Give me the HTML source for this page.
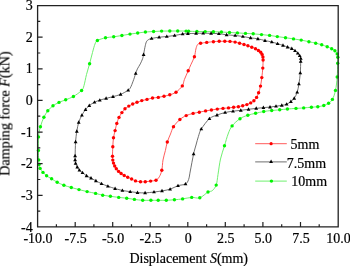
<!DOCTYPE html>
<html><head><meta charset="utf-8"><style>
html,body{margin:0;padding:0;background:#fff;width:350px;height:266px;overflow:hidden}
svg{display:block}
svg text{will-change:transform}
text{font-family:"Liberation Serif",serif;font-size:14px;fill:#000;stroke:#000;stroke-width:0.2px}
</style></head><body>
<svg width="350" height="266" viewBox="0 0 350 266">
<rect width="350" height="266" fill="#fff"/>
<g fill="none" stroke-linejoin="round">
<path d="M38.5,136.9 C38.83,132.95 39.50,129.97 40.4,126.7 C41.30,123.43 42.67,119.95 43.9,117.3 C45.13,114.65 46.28,112.72 47.8,110.8 C49.32,108.88 51.13,107.20 53.0,105.8 C54.87,104.40 56.88,103.40 59.0,102.4 C61.12,101.40 63.30,100.78 65.7,99.8 C68.10,98.82 70.75,98.05 73.4,96.5 C76.05,94.95 79.83,92.33 81.6,90.5 C83.37,88.67 83.18,88.17 84.0,85.5 C84.82,82.83 85.57,78.13 86.5,74.5 C87.43,70.87 88.60,67.37 89.6,63.7 C90.60,60.03 91.60,55.78 92.5,52.5 C93.40,49.22 94.18,46.00 95.0,44.0 C95.82,42.00 95.65,41.53 97.4,40.5 C99.15,39.47 102.78,38.42 105.5,37.8 C108.22,37.18 110.97,37.18 113.7,36.8 C116.43,36.42 119.18,35.95 121.9,35.5 C124.62,35.05 127.37,34.52 130.0,34.1 C132.63,33.68 135.13,33.35 137.7,33.0 C140.27,32.65 142.75,32.25 145.4,32.0 C148.05,31.75 150.90,31.65 153.6,31.5 C156.30,31.35 158.90,31.18 161.6,31.1 C164.30,31.02 167.12,31.02 169.8,31.0 C172.48,30.98 174.98,30.98 177.7,31.0 C180.42,31.02 184.28,31.07 186.1,31.1 C187.92,31.13 186.80,31.13 188.6,31.2 C190.40,31.27 194.13,31.43 196.9,31.5 C199.67,31.57 202.45,31.57 205.2,31.6 C207.95,31.63 210.70,31.63 213.4,31.7 C216.10,31.77 218.72,31.87 221.4,32.0 C224.08,32.13 226.83,32.35 229.5,32.5 C232.17,32.65 234.73,32.75 237.4,32.9 C240.07,33.05 242.87,33.25 245.5,33.4 C248.13,33.55 250.53,33.60 253.2,33.8 C255.87,34.00 258.77,34.33 261.5,34.6 C264.23,34.87 266.97,35.07 269.6,35.4 C272.23,35.73 274.65,36.22 277.3,36.6 C279.95,36.98 282.80,37.32 285.5,37.7 C288.20,38.08 290.88,38.50 293.5,38.9 C296.12,39.30 298.63,39.63 301.2,40.1 C303.77,40.57 306.48,41.18 308.9,41.7 C311.32,42.22 313.57,42.68 315.7,43.2 C317.83,43.72 319.78,44.22 321.7,44.8 C323.62,45.38 325.53,46.05 327.2,46.7 C328.87,47.35 330.42,48.02 331.7,48.7 C332.98,49.38 333.98,49.93 334.9,50.8 C335.82,51.67 336.72,52.82 337.2,53.9 C337.68,54.98 337.72,55.73 337.8,57.3 C337.88,58.87 337.80,60.02 337.7,63.3 C337.60,66.58 337.57,72.48 337.2,77.0 C336.83,81.52 336.30,86.67 335.5,90.4 C334.70,94.13 333.55,97.25 332.4,99.4 C331.25,101.55 330.03,102.28 328.6,103.3 C327.17,104.32 325.60,104.93 323.8,105.5 C322.00,106.07 319.87,106.42 317.8,106.7 C315.73,106.98 313.75,107.00 311.4,107.2 C309.05,107.40 306.27,107.70 303.7,107.9 C301.13,108.10 298.72,108.22 296.0,108.4 C293.28,108.58 290.12,108.77 287.4,109.0 C284.68,109.23 282.32,109.55 279.7,109.8 C277.08,110.05 274.37,110.22 271.7,110.5 C269.03,110.78 266.38,111.03 263.7,111.5 C261.02,111.97 258.25,112.68 255.6,113.3 C252.95,113.92 250.40,114.30 247.8,115.2 C245.20,116.10 242.62,116.92 240.0,118.7 C237.38,120.48 234.08,123.35 232.1,125.9 C230.12,128.45 229.37,130.68 228.1,134.0 C226.83,137.32 225.77,141.63 224.5,145.8 C223.23,149.97 221.58,154.22 220.5,159.0 C219.42,163.78 218.72,170.15 218.0,174.5 C217.28,178.85 217.17,182.40 216.2,185.1 C215.23,187.80 213.57,189.55 212.2,190.7 C210.83,191.85 210.07,190.82 208.0,192.0 C205.93,193.18 202.52,196.90 199.8,197.8 C197.08,198.70 194.57,197.22 191.7,197.4 C188.83,197.58 185.48,198.50 182.6,198.9 C179.72,199.30 177.12,199.57 174.4,199.8 C171.68,200.03 169.00,200.22 166.3,200.3 C163.60,200.38 160.77,200.30 158.2,200.3 C155.63,200.30 153.48,200.30 150.9,200.3 C148.32,200.30 145.45,200.45 142.7,200.3 C139.95,200.15 137.07,199.75 134.4,199.4 C131.73,199.05 129.32,198.53 126.7,198.2 C124.08,197.87 121.42,197.72 118.7,197.4 C115.98,197.08 113.07,196.67 110.4,196.3 C107.73,195.93 105.17,195.68 102.7,195.2 C100.23,194.72 98.20,194.00 95.6,193.4 C93.00,192.80 89.87,192.23 87.1,191.6 C84.33,190.97 81.63,190.28 79.0,189.6 C76.37,188.92 73.82,188.22 71.3,187.5 C68.78,186.78 66.25,186.18 63.9,185.3 C61.55,184.42 59.25,183.28 57.2,182.2 C55.15,181.12 53.37,179.87 51.6,178.8 C49.83,177.73 48.03,176.87 46.6,175.8 C45.17,174.73 44.08,173.63 43.0,172.4 C41.92,171.17 40.75,169.72 40.1,168.4 C39.45,167.08 39.33,165.92 39.1,164.5 C38.87,163.08 38.82,162.25 38.7,159.9 C38.58,157.55 38.43,154.23 38.4,150.4 C38.37,146.57 38.17,140.85 38.5,136.9" stroke="#70f070" stroke-width="1"/>
<path d="M76.8,131.4 C77.32,128.15 77.85,125.10 78.7,122.4 C79.55,119.70 80.77,117.33 81.9,115.2 C83.03,113.07 84.27,111.20 85.5,109.6 C86.73,108.00 87.80,106.83 89.3,105.6 C90.80,104.37 92.75,103.10 94.5,102.2 C96.25,101.30 97.87,100.83 99.8,100.2 C101.73,99.57 103.90,99.00 106.1,98.4 C108.30,97.80 110.58,97.27 113.0,96.6 C115.42,95.93 118.07,95.47 120.6,94.4 C123.13,93.33 126.58,91.28 128.2,90.2 C129.82,89.12 129.70,88.83 130.3,87.9 C130.90,86.97 131.33,85.72 131.8,84.6 C132.27,83.48 132.68,82.33 133.1,81.2 C133.52,80.07 133.87,79.08 134.3,77.8 C134.73,76.52 135.18,74.98 135.7,73.5 C136.22,72.02 136.63,70.50 137.4,68.9 C138.17,67.30 139.43,65.60 140.3,63.9 C141.17,62.20 142.05,60.25 142.6,58.7 C143.15,57.15 143.22,56.48 143.6,54.6 C143.98,52.72 144.43,49.53 144.9,47.4 C145.37,45.27 145.77,43.12 146.4,41.8 C147.03,40.48 147.83,40.05 148.7,39.5 C149.57,38.95 149.87,38.88 151.6,38.5 C153.33,38.12 156.57,37.53 159.1,37.2 C161.63,36.87 164.22,36.78 166.8,36.5 C169.38,36.22 171.97,35.92 174.6,35.5 C177.23,35.08 180.38,34.32 182.6,34.0 C184.82,33.68 185.65,33.70 187.9,33.6 C190.15,33.50 193.55,33.47 196.1,33.4 C198.65,33.33 200.70,33.20 203.2,33.2 C205.70,33.20 208.48,33.32 211.1,33.4 C213.72,33.48 216.32,33.47 218.9,33.7 C221.48,33.93 223.88,34.50 226.6,34.8 C229.32,35.10 232.48,35.22 235.2,35.5 C237.92,35.78 240.33,36.10 242.9,36.5 C245.47,36.90 248.10,37.52 250.6,37.9 C253.10,38.28 255.50,38.35 257.9,38.8 C260.30,39.25 262.68,40.07 265.0,40.6 C267.32,41.13 269.70,41.48 271.8,42.0 C273.90,42.52 275.73,43.13 277.6,43.7 C279.47,44.27 281.33,44.83 283.0,45.4 C284.67,45.97 286.13,46.57 287.6,47.1 C289.07,47.63 290.57,48.00 291.8,48.6 C293.03,49.20 294.00,49.93 295.0,50.7 C296.00,51.47 297.02,52.37 297.8,53.2 C298.58,54.03 299.20,54.82 299.7,55.7 C300.20,56.58 300.63,57.55 300.8,58.5 C300.97,59.45 300.78,58.98 300.7,61.4 C300.62,63.82 300.60,69.23 300.3,73.0 C300.00,76.77 299.42,80.80 298.9,84.0 C298.38,87.20 297.98,89.82 297.2,92.2 C296.42,94.58 295.25,96.73 294.2,98.3 C293.15,99.87 292.17,100.62 290.9,101.6 C289.63,102.58 288.12,103.57 286.6,104.2 C285.08,104.83 283.57,105.07 281.8,105.4 C280.03,105.73 277.97,105.92 276.0,106.2 C274.03,106.48 272.10,106.87 270.0,107.1 C267.90,107.33 265.70,107.38 263.4,107.6 C261.10,107.82 258.68,108.12 256.2,108.4 C253.72,108.68 251.07,108.98 248.5,109.3 C245.93,109.62 243.38,109.98 240.8,110.3 C238.22,110.62 235.62,110.83 233.0,111.2 C230.38,111.57 227.77,111.85 225.1,112.5 C222.43,113.15 219.62,114.07 217.0,115.1 C214.38,116.13 212.02,116.38 209.4,118.7 C206.78,121.02 203.13,126.03 201.3,129.0 C199.47,131.97 199.28,133.83 198.4,136.5 C197.52,139.17 196.80,142.08 196.0,145.0 C195.20,147.92 194.55,149.67 193.6,154.0 C192.65,158.33 191.13,166.75 190.3,171.0 C189.47,175.25 189.40,177.33 188.6,179.5 C187.80,181.67 187.27,182.97 185.5,184.0 C183.73,185.03 180.57,184.83 178.0,185.7 C175.43,186.57 172.77,188.33 170.1,189.2 C167.43,190.07 164.68,190.43 162.0,190.9 C159.32,191.37 156.82,191.67 154.0,192.0 C151.18,192.33 147.85,192.80 145.1,192.9 C142.35,193.00 139.98,192.80 137.5,192.6 C135.02,192.40 132.72,192.05 130.2,191.7 C127.68,191.35 124.92,191.02 122.4,190.5 C119.88,189.98 117.52,189.32 115.1,188.6 C112.68,187.88 110.17,187.02 107.9,186.2 C105.63,185.38 103.50,184.58 101.5,183.7 C99.50,182.82 97.65,181.83 95.9,180.9 C94.15,179.97 92.55,178.95 91.0,178.1 C89.45,177.25 88.02,176.70 86.6,175.8 C85.18,174.90 83.70,173.63 82.5,172.7 C81.30,171.77 80.27,171.13 79.4,170.2 C78.53,169.27 77.93,168.25 77.3,167.1 C76.67,165.95 75.97,164.50 75.6,163.3 C75.23,162.10 75.18,161.13 75.1,159.9 C75.02,158.67 75.02,158.90 75.1,155.9 C75.18,152.90 75.32,145.98 75.6,141.9 C75.88,137.82 76.28,134.65 76.8,131.4" stroke="#555" stroke-width="0.85"/>
<path d="M112.8,146.8 C112.97,143.70 113.12,140.40 113.5,137.7 C113.88,135.00 114.55,132.98 115.1,130.6 C115.65,128.22 116.15,125.60 116.8,123.4 C117.45,121.20 118.15,119.20 119.0,117.4 C119.85,115.60 120.90,114.03 121.9,112.6 C122.90,111.17 123.85,109.88 125.0,108.8 C126.15,107.72 127.52,106.90 128.8,106.1 C130.08,105.30 131.33,104.63 132.7,104.0 C134.07,103.37 135.48,102.87 137.0,102.3 C138.52,101.73 140.13,101.08 141.8,100.6 C143.47,100.12 145.22,99.83 147.0,99.4 C148.78,98.97 150.62,98.33 152.5,98.0 C154.38,97.67 156.38,97.70 158.3,97.4 C160.22,97.10 162.08,96.63 164.0,96.2 C165.92,95.77 167.80,95.47 169.8,94.8 C171.80,94.13 173.92,93.68 176.0,92.2 C178.08,90.72 180.90,88.02 182.3,85.9 C183.70,83.78 183.42,82.02 184.4,79.5 C185.38,76.98 187.13,73.25 188.2,70.8 C189.27,68.35 189.77,67.13 190.8,64.8 C191.83,62.47 193.55,59.43 194.4,56.8 C195.25,54.17 195.37,51.05 195.9,49.0 C196.43,46.95 196.82,45.45 197.6,44.5 C198.38,43.55 199.08,43.65 200.6,43.3 C202.12,42.95 204.57,42.67 206.7,42.4 C208.83,42.13 211.32,41.88 213.4,41.7 C215.48,41.52 217.30,41.37 219.2,41.3 C221.10,41.23 223.00,41.28 224.8,41.3 C226.60,41.32 228.28,41.27 230.0,41.4 C231.72,41.53 233.50,41.80 235.1,42.1 C236.70,42.40 238.12,42.80 239.6,43.2 C241.08,43.60 242.62,44.07 244.0,44.5 C245.38,44.93 246.60,45.35 247.9,45.8 C249.20,46.25 250.53,46.72 251.8,47.2 C253.07,47.68 254.40,48.15 255.5,48.7 C256.60,49.25 257.53,49.90 258.4,50.5 C259.27,51.10 260.08,51.65 260.7,52.3 C261.32,52.95 261.73,53.62 262.1,54.4 C262.47,55.18 262.73,56.07 262.9,57.0 C263.07,57.93 263.12,58.15 263.1,60.0 C263.08,61.85 263.02,65.17 262.8,68.1 C262.58,71.03 262.18,74.60 261.8,77.6 C261.42,80.60 261.03,83.58 260.5,86.1 C259.97,88.62 259.25,90.82 258.6,92.7 C257.95,94.58 257.38,96.07 256.6,97.4 C255.82,98.73 254.88,99.78 253.9,100.7 C252.92,101.62 251.87,102.25 250.7,102.9 C249.53,103.55 248.23,104.12 246.9,104.6 C245.57,105.08 244.12,105.45 242.7,105.8 C241.28,106.15 239.92,106.45 238.4,106.7 C236.88,106.95 235.25,107.10 233.6,107.3 C231.95,107.50 230.27,107.72 228.5,107.9 C226.73,108.08 224.87,108.20 223.0,108.4 C221.13,108.60 219.23,108.83 217.3,109.1 C215.37,109.37 213.35,109.70 211.4,110.0 C209.45,110.30 207.62,110.53 205.6,110.9 C203.58,111.27 201.38,111.78 199.3,112.2 C197.22,112.62 195.28,112.83 193.1,113.4 C190.92,113.97 188.40,114.58 186.2,115.6 C184.00,116.62 182.02,117.65 179.9,119.5 C177.78,121.35 175.07,124.28 173.5,126.7 C171.93,129.12 171.53,131.45 170.5,134.0 C169.47,136.55 168.15,139.25 167.3,142.0 C166.45,144.75 166.12,147.50 165.4,150.5 C164.68,153.50 163.60,156.70 163.0,160.0 C162.40,163.30 162.42,167.50 161.8,170.3 C161.18,173.10 160.27,175.15 159.3,176.8 C158.33,178.45 157.45,179.48 156.0,180.2 C154.55,180.92 152.38,180.83 150.6,181.1 C148.82,181.37 146.98,181.68 145.3,181.8 C143.62,181.92 142.13,181.95 140.5,181.8 C138.87,181.65 136.98,181.37 135.5,180.9 C134.02,180.43 132.90,179.60 131.6,179.0 C130.30,178.40 128.93,177.88 127.7,177.3 C126.47,176.72 125.30,176.13 124.2,175.5 C123.10,174.87 122.03,174.18 121.1,173.5 C120.17,172.82 119.40,172.18 118.6,171.4 C117.80,170.62 116.95,169.70 116.3,168.8 C115.65,167.90 115.17,166.95 114.7,166.0 C114.23,165.05 113.82,164.08 113.5,163.1 C113.18,162.12 112.97,161.23 112.8,160.1 C112.63,158.97 112.50,158.52 112.5,156.3 C112.50,154.08 112.63,149.90 112.8,146.8" stroke="#ff4a4a" stroke-width="0.9"/>
</g>
<g fill="#00f500"><circle cx="38.5" cy="136.9" r="1.70"/><circle cx="40.4" cy="126.7" r="1.70"/><circle cx="43.9" cy="117.3" r="1.70"/><circle cx="47.8" cy="110.8" r="1.70"/><circle cx="53.0" cy="105.8" r="1.70"/><circle cx="59.0" cy="102.4" r="1.70"/><circle cx="65.7" cy="99.8" r="1.70"/><circle cx="73.4" cy="96.5" r="1.70"/><circle cx="81.6" cy="90.5" r="1.70"/><circle cx="89.6" cy="63.7" r="1.70"/><circle cx="97.4" cy="40.5" r="1.70"/><circle cx="105.5" cy="37.8" r="1.70"/><circle cx="113.7" cy="36.8" r="1.70"/><circle cx="121.9" cy="35.5" r="1.70"/><circle cx="130.0" cy="34.1" r="1.70"/><circle cx="137.7" cy="33.0" r="1.70"/><circle cx="145.4" cy="32.0" r="1.70"/><circle cx="153.6" cy="31.5" r="1.70"/><circle cx="161.6" cy="31.1" r="1.70"/><circle cx="169.8" cy="31.0" r="1.70"/><circle cx="177.7" cy="31.0" r="1.70"/><circle cx="186.1" cy="31.1" r="1.70"/><circle cx="188.6" cy="31.2" r="1.70"/><circle cx="196.9" cy="31.5" r="1.70"/><circle cx="205.2" cy="31.6" r="1.70"/><circle cx="213.4" cy="31.7" r="1.70"/><circle cx="221.4" cy="32.0" r="1.70"/><circle cx="229.5" cy="32.5" r="1.70"/><circle cx="237.4" cy="32.9" r="1.70"/><circle cx="245.5" cy="33.4" r="1.70"/><circle cx="253.2" cy="33.8" r="1.70"/><circle cx="261.5" cy="34.6" r="1.70"/><circle cx="269.6" cy="35.4" r="1.70"/><circle cx="277.3" cy="36.6" r="1.70"/><circle cx="285.5" cy="37.7" r="1.70"/><circle cx="293.5" cy="38.9" r="1.70"/><circle cx="301.2" cy="40.1" r="1.70"/><circle cx="308.9" cy="41.7" r="1.70"/><circle cx="315.7" cy="43.2" r="1.70"/><circle cx="321.7" cy="44.8" r="1.70"/><circle cx="327.2" cy="46.7" r="1.70"/><circle cx="331.7" cy="48.7" r="1.70"/><circle cx="334.9" cy="50.8" r="1.70"/><circle cx="337.2" cy="53.9" r="1.70"/><circle cx="337.8" cy="57.3" r="1.70"/><circle cx="337.7" cy="63.3" r="1.70"/><circle cx="337.2" cy="77.0" r="1.70"/><circle cx="335.5" cy="90.4" r="1.70"/><circle cx="332.4" cy="99.4" r="1.70"/><circle cx="328.6" cy="103.3" r="1.70"/><circle cx="323.8" cy="105.5" r="1.70"/><circle cx="317.8" cy="106.7" r="1.70"/><circle cx="311.4" cy="107.2" r="1.70"/><circle cx="303.7" cy="107.9" r="1.70"/><circle cx="296.0" cy="108.4" r="1.70"/><circle cx="287.4" cy="109.0" r="1.70"/><circle cx="279.7" cy="109.8" r="1.70"/><circle cx="271.7" cy="110.5" r="1.70"/><circle cx="263.7" cy="111.5" r="1.70"/><circle cx="255.6" cy="113.3" r="1.70"/><circle cx="247.8" cy="115.2" r="1.70"/><circle cx="240.0" cy="118.7" r="1.70"/><circle cx="232.1" cy="125.9" r="1.70"/><circle cx="224.5" cy="145.8" r="1.70"/><circle cx="216.2" cy="185.1" r="1.70"/><circle cx="208.0" cy="192.0" r="1.70"/><circle cx="199.8" cy="197.8" r="1.70"/><circle cx="191.7" cy="197.4" r="1.70"/><circle cx="182.6" cy="198.9" r="1.70"/><circle cx="174.4" cy="199.8" r="1.70"/><circle cx="166.3" cy="200.3" r="1.70"/><circle cx="158.2" cy="200.3" r="1.70"/><circle cx="150.9" cy="200.3" r="1.70"/><circle cx="142.7" cy="200.3" r="1.70"/><circle cx="134.4" cy="199.4" r="1.70"/><circle cx="126.7" cy="198.2" r="1.70"/><circle cx="118.7" cy="197.4" r="1.70"/><circle cx="110.4" cy="196.3" r="1.70"/><circle cx="102.7" cy="195.2" r="1.70"/><circle cx="95.6" cy="193.4" r="1.70"/><circle cx="87.1" cy="191.6" r="1.70"/><circle cx="79.0" cy="189.6" r="1.70"/><circle cx="71.3" cy="187.5" r="1.70"/><circle cx="63.9" cy="185.3" r="1.70"/><circle cx="57.2" cy="182.2" r="1.70"/><circle cx="51.6" cy="178.8" r="1.70"/><circle cx="46.6" cy="175.8" r="1.70"/><circle cx="43.0" cy="172.4" r="1.70"/><circle cx="40.1" cy="168.4" r="1.70"/><circle cx="39.1" cy="164.5" r="1.70"/><circle cx="38.7" cy="159.9" r="1.70"/><circle cx="38.4" cy="150.4" r="1.70"/></g>
<g fill="#000"><path d="M76.80,129.36L78.70,132.76L74.90,132.76Z"/><path d="M78.70,120.36L80.60,123.76L76.80,123.76Z"/><path d="M81.90,113.16L83.80,116.56L80.00,116.56Z"/><path d="M85.50,107.56L87.40,110.96L83.60,110.96Z"/><path d="M89.30,103.56L91.20,106.96L87.40,106.96Z"/><path d="M94.50,100.16L96.40,103.56L92.60,103.56Z"/><path d="M99.80,98.16L101.70,101.56L97.90,101.56Z"/><path d="M106.10,96.36L108.00,99.76L104.20,99.76Z"/><path d="M113.00,94.56L114.90,97.96L111.10,97.96Z"/><path d="M120.60,92.36L122.50,95.76L118.70,95.76Z"/><path d="M128.20,88.16L130.10,91.56L126.30,91.56Z"/><path d="M135.70,71.46L137.60,74.86L133.80,74.86Z"/><path d="M143.60,52.56L145.50,55.96L141.70,55.96Z"/><path d="M151.60,36.46L153.50,39.86L149.70,39.86Z"/><path d="M159.10,35.16L161.00,38.56L157.20,38.56Z"/><path d="M166.80,34.46L168.70,37.86L164.90,37.86Z"/><path d="M174.60,33.46L176.50,36.86L172.70,36.86Z"/><path d="M182.60,31.96L184.50,35.36L180.70,35.36Z"/><path d="M187.90,31.56L189.80,34.96L186.00,34.96Z"/><path d="M196.10,31.36L198.00,34.76L194.20,34.76Z"/><path d="M203.20,31.16L205.10,34.56L201.30,34.56Z"/><path d="M211.10,31.36L213.00,34.76L209.20,34.76Z"/><path d="M218.90,31.66L220.80,35.06L217.00,35.06Z"/><path d="M226.60,32.76L228.50,36.16L224.70,36.16Z"/><path d="M235.20,33.46L237.10,36.86L233.30,36.86Z"/><path d="M242.90,34.46L244.80,37.86L241.00,37.86Z"/><path d="M250.60,35.86L252.50,39.26L248.70,39.26Z"/><path d="M257.90,36.76L259.80,40.16L256.00,40.16Z"/><path d="M265.00,38.56L266.90,41.96L263.10,41.96Z"/><path d="M271.80,39.96L273.70,43.36L269.90,43.36Z"/><path d="M277.60,41.66L279.50,45.06L275.70,45.06Z"/><path d="M283.00,43.36L284.90,46.76L281.10,46.76Z"/><path d="M287.60,45.06L289.50,48.46L285.70,48.46Z"/><path d="M291.80,46.56L293.70,49.96L289.90,49.96Z"/><path d="M295.00,48.66L296.90,52.06L293.10,52.06Z"/><path d="M297.80,51.16L299.70,54.56L295.90,54.56Z"/><path d="M299.70,53.66L301.60,57.06L297.80,57.06Z"/><path d="M300.80,56.46L302.70,59.86L298.90,59.86Z"/><path d="M300.70,59.36L302.60,62.76L298.80,62.76Z"/><path d="M300.30,70.96L302.20,74.36L298.40,74.36Z"/><path d="M298.90,81.96L300.80,85.36L297.00,85.36Z"/><path d="M297.20,90.16L299.10,93.56L295.30,93.56Z"/><path d="M294.20,96.26L296.10,99.66L292.30,99.66Z"/><path d="M290.90,99.56L292.80,102.96L289.00,102.96Z"/><path d="M286.60,102.16L288.50,105.56L284.70,105.56Z"/><path d="M281.80,103.36L283.70,106.76L279.90,106.76Z"/><path d="M276.00,104.16L277.90,107.56L274.10,107.56Z"/><path d="M270.00,105.06L271.90,108.46L268.10,108.46Z"/><path d="M263.40,105.56L265.30,108.96L261.50,108.96Z"/><path d="M256.20,106.36L258.10,109.76L254.30,109.76Z"/><path d="M248.50,107.26L250.40,110.66L246.60,110.66Z"/><path d="M240.80,108.26L242.70,111.66L238.90,111.66Z"/><path d="M233.00,109.16L234.90,112.56L231.10,112.56Z"/><path d="M225.10,110.46L227.00,113.86L223.20,113.86Z"/><path d="M217.00,113.06L218.90,116.46L215.10,116.46Z"/><path d="M209.40,116.66L211.30,120.06L207.50,120.06Z"/><path d="M201.30,126.96L203.20,130.36L199.40,130.36Z"/><path d="M193.60,151.96L195.50,155.36L191.70,155.36Z"/><path d="M185.50,181.96L187.40,185.36L183.60,185.36Z"/><path d="M178.00,183.66L179.90,187.06L176.10,187.06Z"/><path d="M170.10,187.16L172.00,190.56L168.20,190.56Z"/><path d="M162.00,188.86L163.90,192.26L160.10,192.26Z"/><path d="M154.00,189.96L155.90,193.36L152.10,193.36Z"/><path d="M145.10,190.86L147.00,194.26L143.20,194.26Z"/><path d="M137.50,190.56L139.40,193.96L135.60,193.96Z"/><path d="M130.20,189.66L132.10,193.06L128.30,193.06Z"/><path d="M122.40,188.46L124.30,191.86L120.50,191.86Z"/><path d="M115.10,186.56L117.00,189.96L113.20,189.96Z"/><path d="M107.90,184.16L109.80,187.56L106.00,187.56Z"/><path d="M101.50,181.66L103.40,185.06L99.60,185.06Z"/><path d="M95.90,178.86L97.80,182.26L94.00,182.26Z"/><path d="M91.00,176.06L92.90,179.46L89.10,179.46Z"/><path d="M86.60,173.76L88.50,177.16L84.70,177.16Z"/><path d="M82.50,170.66L84.40,174.06L80.60,174.06Z"/><path d="M79.40,168.16L81.30,171.56L77.50,171.56Z"/><path d="M77.30,165.06L79.20,168.46L75.40,168.46Z"/><path d="M75.60,161.26L77.50,164.66L73.70,164.66Z"/><path d="M75.10,157.86L77.00,161.26L73.20,161.26Z"/><path d="M75.10,153.86L77.00,157.26L73.20,157.26Z"/><path d="M75.60,139.86L77.50,143.26L73.70,143.26Z"/></g>
<g fill="#ff0000"><circle cx="112.8" cy="146.8" r="1.70"/><circle cx="113.5" cy="137.7" r="1.70"/><circle cx="115.1" cy="130.6" r="1.70"/><circle cx="116.8" cy="123.4" r="1.70"/><circle cx="119.0" cy="117.4" r="1.70"/><circle cx="121.9" cy="112.6" r="1.70"/><circle cx="125.0" cy="108.8" r="1.70"/><circle cx="128.8" cy="106.1" r="1.70"/><circle cx="132.7" cy="104.0" r="1.70"/><circle cx="137.0" cy="102.3" r="1.70"/><circle cx="141.8" cy="100.6" r="1.70"/><circle cx="147.0" cy="99.4" r="1.70"/><circle cx="152.5" cy="98.0" r="1.70"/><circle cx="158.3" cy="97.4" r="1.70"/><circle cx="164.0" cy="96.2" r="1.70"/><circle cx="169.8" cy="94.8" r="1.70"/><circle cx="176.0" cy="92.2" r="1.70"/><circle cx="182.3" cy="85.9" r="1.70"/><circle cx="188.2" cy="70.8" r="1.70"/><circle cx="194.4" cy="56.8" r="1.70"/><circle cx="200.6" cy="43.3" r="1.70"/><circle cx="206.7" cy="42.4" r="1.70"/><circle cx="213.4" cy="41.7" r="1.70"/><circle cx="219.2" cy="41.3" r="1.70"/><circle cx="224.8" cy="41.3" r="1.70"/><circle cx="230.0" cy="41.4" r="1.70"/><circle cx="235.1" cy="42.1" r="1.70"/><circle cx="239.6" cy="43.2" r="1.70"/><circle cx="244.0" cy="44.5" r="1.70"/><circle cx="247.9" cy="45.8" r="1.70"/><circle cx="251.8" cy="47.2" r="1.70"/><circle cx="255.5" cy="48.7" r="1.70"/><circle cx="258.4" cy="50.5" r="1.70"/><circle cx="260.7" cy="52.3" r="1.70"/><circle cx="262.1" cy="54.4" r="1.70"/><circle cx="262.9" cy="57.0" r="1.70"/><circle cx="263.1" cy="60.0" r="1.70"/><circle cx="262.8" cy="68.1" r="1.70"/><circle cx="261.8" cy="77.6" r="1.70"/><circle cx="260.5" cy="86.1" r="1.70"/><circle cx="258.6" cy="92.7" r="1.70"/><circle cx="256.6" cy="97.4" r="1.70"/><circle cx="253.9" cy="100.7" r="1.70"/><circle cx="250.7" cy="102.9" r="1.70"/><circle cx="246.9" cy="104.6" r="1.70"/><circle cx="242.7" cy="105.8" r="1.70"/><circle cx="238.4" cy="106.7" r="1.70"/><circle cx="233.6" cy="107.3" r="1.70"/><circle cx="228.5" cy="107.9" r="1.70"/><circle cx="223.0" cy="108.4" r="1.70"/><circle cx="217.3" cy="109.1" r="1.70"/><circle cx="211.4" cy="110.0" r="1.70"/><circle cx="205.6" cy="110.9" r="1.70"/><circle cx="199.3" cy="112.2" r="1.70"/><circle cx="193.1" cy="113.4" r="1.70"/><circle cx="186.2" cy="115.6" r="1.70"/><circle cx="179.9" cy="119.5" r="1.70"/><circle cx="173.5" cy="126.7" r="1.70"/><circle cx="167.3" cy="142.0" r="1.70"/><circle cx="161.8" cy="170.3" r="1.70"/><circle cx="156.0" cy="180.2" r="1.70"/><circle cx="150.6" cy="181.1" r="1.70"/><circle cx="145.3" cy="181.8" r="1.70"/><circle cx="140.5" cy="181.8" r="1.70"/><circle cx="135.5" cy="180.9" r="1.70"/><circle cx="131.6" cy="179.0" r="1.70"/><circle cx="127.7" cy="177.3" r="1.70"/><circle cx="124.2" cy="175.5" r="1.70"/><circle cx="121.1" cy="173.5" r="1.70"/><circle cx="118.6" cy="171.4" r="1.70"/><circle cx="116.3" cy="168.8" r="1.70"/><circle cx="114.7" cy="166.0" r="1.70"/><circle cx="113.5" cy="163.1" r="1.70"/><circle cx="112.8" cy="160.1" r="1.70"/><circle cx="112.5" cy="156.3" r="1.70"/></g>
<path d="M37.6,5.6H338.2V226.9H37.6Z" fill="none" stroke="#222" stroke-width="1.3" stroke-linejoin="miter"/>
<path d="M56.4,226.9V224.2 M75.2,226.9V221.9 M93.9,226.9V224.2 M112.7,226.9V221.9 M131.5,226.9V224.2 M150.2,226.9V221.9 M169.0,226.9V224.2 M187.8,226.9V221.9 M206.6,226.9V224.2 M225.3,226.9V221.9 M244.1,226.9V224.2 M262.9,226.9V221.9 M281.7,226.9V224.2 M300.5,226.9V221.9 M319.2,226.9V224.2 M37.6,211.1H40.3 M37.6,195.3H42.6 M37.6,179.5H40.3 M37.6,163.7H42.6 M37.6,147.9H40.3 M37.6,132.1H42.6 M37.6,116.2H40.3 M37.6,100.4H42.6 M37.6,84.6H40.3 M37.6,68.8H42.6 M37.6,53.0H40.3 M37.6,37.2H42.6 M37.6,21.4H40.3" stroke="#222" stroke-width="1.2" fill="none"/>
<text x="38.0" y="243.4" text-anchor="middle">-10.0</text><text x="75.6" y="243.4" text-anchor="middle">-7.5</text><text x="113.1" y="243.4" text-anchor="middle">-5.0</text><text x="150.7" y="243.4" text-anchor="middle">-2.5</text><text x="188.2" y="243.4" text-anchor="middle">0</text><text x="225.7" y="243.4" text-anchor="middle">2.5</text><text x="263.3" y="243.4" text-anchor="middle">5.0</text><text x="300.9" y="243.4" text-anchor="middle">7.5</text><text x="338.4" y="243.4" text-anchor="middle">10.0</text>
<text x="32.7" y="231.5" text-anchor="end">-4</text><text x="32.7" y="199.9" text-anchor="end">-3</text><text x="32.7" y="168.3" text-anchor="end">-2</text><text x="32.7" y="136.7" text-anchor="end">-1</text><text x="32.7" y="105.0" text-anchor="end">0</text><text x="32.7" y="73.4" text-anchor="end">1</text><text x="32.7" y="41.8" text-anchor="end">2</text><text x="32.7" y="10.2" text-anchor="end">3</text>
<text x="129.4" y="262.5">Displacement <tspan font-style="italic">S</tspan>(mm)</text>
<text transform="translate(9.5,175.8) rotate(-90)" style="font-size:14.2px">Damping force <tspan font-style="italic">F</tspan>(kN)</text>
<g>
<path d="M255.2,143.7H286.8" stroke="#ff4a4a" stroke-width="0.9"/>
<circle cx="271.1" cy="143.7" r="1.6" fill="#f00"/>
<path d="M255.2,161.9H286.8" stroke="#555" stroke-width="0.85"/>
<path d="M271.1,159.6L273.0,163.0L269.2,163.0Z" fill="#000"/>
<path d="M255.2,181.1H286.8" stroke="#70f070" stroke-width="1"/>
<circle cx="271.4" cy="181.1" r="1.7" fill="#00f500"/>
<text x="290.6" y="149">5mm</text>
<text x="286.8" y="167.5">7.5mm</text>
<text x="291.3" y="186.3">10mm</text>
</g>
</svg>
</body></html>
